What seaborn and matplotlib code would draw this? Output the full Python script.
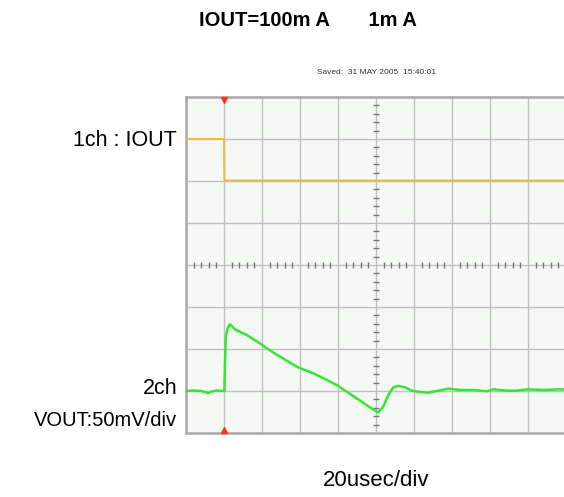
import numpy as np
import pandas as pd
import matplotlib
matplotlib.use("Agg")
import matplotlib.pyplot as plt
import seaborn as sns

# Oscilloscope capture: load step IOUT 100 mA -> 1 mA, VOUT response
# Horizontal: 20 us/div, vertical CH2: 50 mV/div
US_PER_DIV = 20.0
MV_PER_DIV = 50.0
MA_PER_DIV = 100.0

# Channel 1 (IOUT, mA)
iout_t_us = [0.0, 20.0, 20.2, 21.0, 23.0, 200.0]
iout_ma = [100.0, 100.0, 4.0, 1.5, 1.0, 1.0]

# Channel 2 (VOUT deviation, mV)
vout_t_us = [0.0, 4.0, 8.0, 10.5, 11.6, 13.0, 16.0, 19.5, 20.2, 20.5, 20.9, 21.8,
             22.8, 23.2, 25.8, 31.9, 38.9, 42.5, 49.5, 58.3, 67.0, 74.1, 79.3,
             84.6, 91.6, 96.8, 100.4, 101.2, 103.8, 106.5, 109.1, 111.7, 115.3,
             118.8, 123.2, 127.5, 132.8, 138.1, 144.2, 151.2, 158.3, 161.7,
             168.8, 174.1, 180.2, 188.1, 196.8, 200.0]
vout_mv = [0.0, 0.5, 0.0, -1.5, -2.8, -1.0, 0.5, 0.0, 0.0, 30.0, 64.6, 74.0,
           78.6, 79.4, 73.4, 66.7, 56.8, 50.8, 40.8, 28.9, 21.1, 13.1, 7.1,
           -0.8, -11.5, -19.5, -24.6, -25.4, -18.7, -4.8, 4.4, 6.0, 4.4,
           0.4, -1.2, -2.0, 0.4, 2.8, 1.2, 1.2, -0.4, 2.0,
           0.4, 0.4, 2.0, 1.2, 2.0, 1.6]

# Channel reference positions on screen (divisions from bottom)
CH1_ZERO_DIV = 6.0
CH2_ZERO_DIV = 1.0

ch1 = pd.DataFrame({"x": np.array(iout_t_us) / US_PER_DIV,
                    "y": CH1_ZERO_DIV + np.array(iout_ma) / MA_PER_DIV})
ch2 = pd.DataFrame({"x": np.array(vout_t_us) / US_PER_DIV,
                    "y": CH2_ZERO_DIV + np.array(vout_mv) / MV_PER_DIV})

sns.set_theme(style="white")
plt.rcParams["font.family"] = ["Liberation Sans", "DejaVu Sans"]
plt.rcParams["text.color"] = "black"

W, H = 564, 497
fig = plt.figure(figsize=(W / 100, H / 100), dpi=100)
fig.patch.set_facecolor("white")

left, top, bottom = 186, 97, 433
ax = fig.add_axes([left / W, (H - bottom) / H, 380 / W, (bottom - top) / H])
ax.set_facecolor("#f5f8f5")
ax.set_xlim(0, 10)
ax.set_ylim(0, 8)

# Graticule
for xv in range(1, 10):
    ax.axvline(xv, color="#c0c0c0", lw=1.0, zorder=1)
for yv in range(1, 8):
    ax.axhline(yv, color="#c0c0c0", lw=1.0, zorder=1)

# Centre cross with sub-division marks
minor_y = np.arange(0.2, 8.0, 0.2)
minor_y = minor_y[np.abs(minor_y - np.round(minor_y)) > 0.05]
ax.plot(np.full_like(minor_y, 5.0), minor_y, linestyle="none", marker="_",
        markersize=4, color="#777777", markeredgewidth=1.0, zorder=2)
minor_x = np.arange(0.2, 10.0, 0.2)
minor_x = minor_x[np.abs(minor_x - np.round(minor_x)) > 0.05]
ax.plot(minor_x, np.full_like(minor_x, 4.0), linestyle="none", marker="|",
        markersize=4, color="#777777", markeredgewidth=1.0, zorder=2)

for side in ["left", "right", "top", "bottom"]:
    ax.spines[side].set_color("#a8a8a8")
    ax.spines[side].set_linewidth(1.8)
ax.set_xticks([])
ax.set_yticks([])

# Traces
sns.lineplot(data=ch1, x="x", y="y", ax=ax, color="#eebb44", linewidth=1.5,
             estimator=None, sort=False, zorder=4)
sns.lineplot(data=ch2, x="x", y="y", ax=ax, color="#33e833", linewidth=1.8,
             estimator=None, sort=False, zorder=5)
ax.set_xlabel("")
ax.set_ylabel("")

# Trigger position markers
trig = 20.0 / US_PER_DIV
ax.plot([trig], [7.93], marker="v", color="#ff3322", markersize=5, clip_on=False, zorder=6)
ax.plot([trig], [0.07], marker="^", color="#ff3322", markersize=5, clip_on=False, zorder=6)

# Texts
fig.text(308 / W, 1 - 20 / H, "IOUT=100m A       1m A", ha="center", va="center",
         fontsize=14.5, fontweight="bold", color="black")
fig.text(377 / W, 1 - 72 / H, "Saved:  31 MAY 2005  15:40:01", ha="center", va="center",
         fontsize=6.0, color="#333333")
fig.text(177 / W, 1 - 141 / H, "1ch : IOUT", ha="right", va="center", fontsize=15.5,
         color="black")
fig.text(177 / W, 1 - 388 / H, "2ch", ha="right", va="center", fontsize=15.5,
         color="black")
fig.text(177 / W, 1 - 420 / H, "VOUT:50mV/div", ha="right", va="center", fontsize=14.5,
         color="black")
fig.text(376 / W, 1 - 481 / H, "20usec/div", ha="center", va="center", fontsize=16,
         color="black")

fig.savefig("out.png", dpi=100)
